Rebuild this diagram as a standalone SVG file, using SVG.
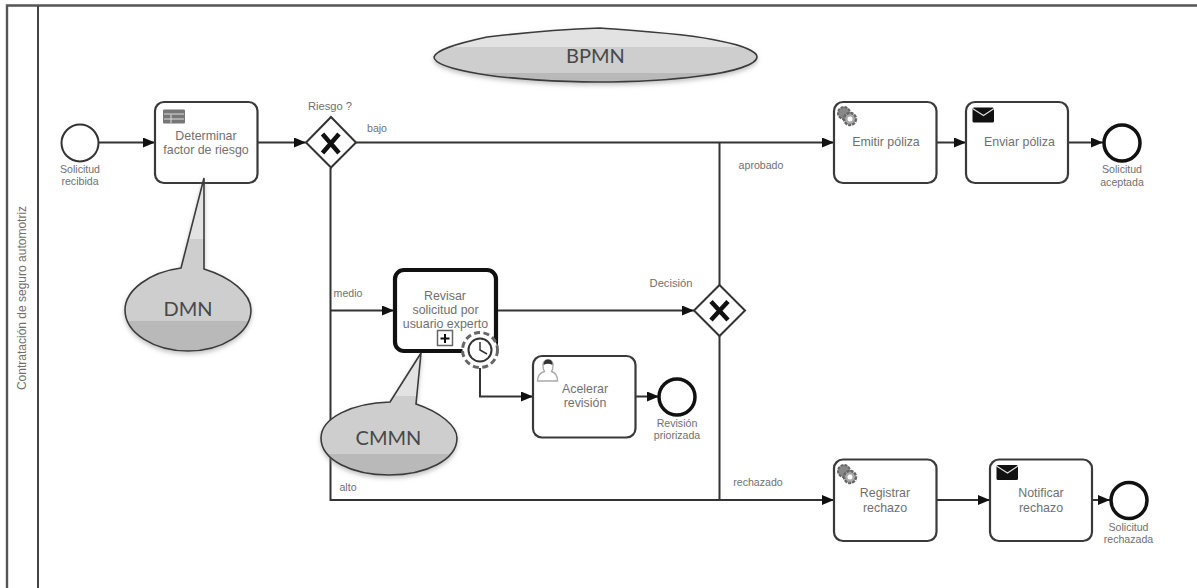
<svg xmlns="http://www.w3.org/2000/svg" width="1197" height="588" viewBox="0 0 1197 588">
<style>
text{font-family:"Liberation Sans",Arial,sans-serif;fill:#707070;text-anchor:middle}
.t{font-size:12.4px}
.s{font-size:10.600px}
.task{fill:#fff;stroke:#3a3a3a;stroke-width:2.2}
.flow{fill:none;stroke:#333;stroke-width:2;marker-end:url(#arrow)}
.line{fill:none;stroke:#333;stroke-width:2}
.gw{fill:#fff;stroke:#333;stroke-width:2}
.x{fill:none;stroke:#111;stroke-width:4.5}
.call{stroke:#3a3a3a;stroke-width:1.6;fill:url(#grey);filter:url(#shadow)}
.big{font-family:Lato,"Liberation Sans",sans-serif;fill:#484848}
.gear{fill:#fff;stroke:#666;stroke-width:3;stroke-dasharray:6 3.500}
</style>
<defs>
<marker id="arrow" markerWidth="13" markerHeight="11" refX="12" refY="5" orient="auto" markerUnits="userSpaceOnUse"><path d="M0 0L12 5L0 10Z" fill="#111"/></marker>
<linearGradient id="grey" x1="0" y1="0" x2="0" y2="1"><stop offset="0.35" stop-color="#e2e2e2"/><stop offset="0.35" stop-color="#cecece"/><stop offset="0.825" stop-color="#cecece"/><stop offset="0.825" stop-color="#b9b9b9"/></linearGradient>
<filter id="shadow" x="-10%" y="-10%" width="120%" height="125%"><feDropShadow dx="0" dy="2.500" stdDeviation="2" flood-color="#888" flood-opacity="0.5"/></filter>
<g id="gears"><circle cx="-2" cy="-2" r="6" fill="#888" stroke="#666" stroke-width="2" stroke-dasharray="3 1"/><circle cx="4" cy="4" r="6" fill="#aaa" stroke="#666" stroke-width="2.4" stroke-dasharray="3 1"/><circle cx="4" cy="4" r="2.500" fill="#fff"/></g>
<g id="env"><rect x="-10.500" y="-7" width="21.500" height="15" rx="1.500" fill="#111"/><path d="M-10.500 -6L0.500 1L11 -6" fill="none" stroke="#ddd" stroke-width="1.200"/></g>
</defs>
<rect width="1197" height="588" fill="#fff"/>
<g id="pool">
<path d="M7 588V5.500H1197" fill="none" stroke="#555" stroke-width="2.400"/>
<path d="M38 6V588" fill="none" stroke="#444" stroke-width="2"/>
<text transform="translate(26 298) rotate(-90)" style="font-size:12px">Contratación de seguro automotriz</text>
</g>
<g id="connectors">
<path class="flow" d="M99 142.500H155"/>
<path class="flow" d="M258 142.500H306"/>
<path class="flow" d="M356 142.500H834"/>
<path class="line" d="M330.500 168V500H719"/>
<path class="flow" d="M330.500 310.500H394"/>
<path class="flow" d="M498 310.500H694"/>
<path class="line" d="M719.500 336V500"/>
<path class="line" d="M719.500 285V142.500"/>
<path class="flow" d="M719 500H834"/>
<path class="flow" d="M480 368V396.500H533"/>
<path class="flow" d="M636 396.500H659"/>
<path class="flow" d="M937 142.500H966"/>
<path class="flow" d="M1068 142.500H1103"/>
<path class="flow" d="M937 500H990"/>
<path class="flow" d="M1092 500H1110"/>
</g>
<g id="start"><circle cx="80" cy="143" r="18.500" fill="#fff" stroke="#333" stroke-width="2"/><text class="s" x="80" y="173">Solicitud</text><text class="s" x="80" y="185">recibida</text></g>
<g id="determinar"><rect class="task" x="155" y="102" width="102.500" height="81" rx="9"/><rect x="163" y="109.500" width="22" height="14" rx="1" fill="#777"/><path d="M164 114H184M164 119H184M171 114.500V123" stroke="#ddd" stroke-width="1"/><text class="t" x="206" y="140">Determinar</text><text class="t" x="206" y="154">factor de riesgo</text></g>
<g id="riesgo"><path class="gw" d="M331 117L356 142.500L331 167.500L306 142.500Z"/><path class="x" d="M322.500 134L339 153M339 134L322.500 153"/><text class="s" x="330" y="110" style="font-size:11.200px">Riesgo ?</text></g>
<g id="dmn"><path class="call" d="M181 268L204 178V269C230 277 251 293 251 310C251 333 222 351 188 351C154 351 125 333 125 310C125 290 150 272 181 268Z"/><text class="big" x="188" y="316" style="font-size:20px">DMN</text></g>
<g id="revisar"><rect x="395" y="270" width="101" height="81" rx="9" fill="#fff" stroke="#111" stroke-width="4.200"/><text class="t" x="445" y="300">Revisar</text><text class="t" x="445.500" y="314">solicitud por</text><text class="t" x="445.500" y="328">usuario experto</text><rect x="437.500" y="330.500" width="15" height="15" fill="#fff" stroke="#666" stroke-width="1.500"/><path d="M445 334V343M440.500 338.500H449.500" stroke="#111" stroke-width="2"/></g>
<g id="timer"><circle class="gear" cx="480" cy="350" r="17.500"/><circle cx="480" cy="350" r="11.500" fill="#fff" stroke="#333" stroke-width="2"/><path d="M480 342V350L487 354" fill="none" stroke="#333" stroke-width="1.500"/></g>
<g id="cmmn"><path class="call" d="M390 402L421 353L416 404C440 412 457 426 457 438C457 460 426 475 389 475C352 475 321 460 321 438C321 418 352 403 390 402Z"/><text class="big" x="388.500" y="445" style="font-size:20px">CMMN</text></g>
<g id="acelerar"><rect class="task" x="533" y="356" width="102.500" height="81.500" rx="9"/><path d="M537.500 381C537.500 375 541 372.500 544.500 371.500C542.500 368 542.500 363 544 361.500C546 359.500 550 359.500 552 361.500C553.500 363 553.500 368 551.500 371.500C555 372.500 557.500 375 557.500 381Z" fill="#fff" stroke="#aaa" stroke-width="1.400"/><path d="M543.500 365Q544 359 548 359.500Q552.500 359 552.500 365Q548 362.500 543.500 365Z" fill="#333"/><text class="t" x="585" y="393">Acelerar</text><text class="t" x="585" y="407">revisión</text></g>
<g id="priorizada"><circle cx="677" cy="397" r="18" fill="#fff" stroke="#111" stroke-width="3.500"/><text class="s" x="677" y="427">Revisión</text><text class="s" x="677" y="439">priorizada</text></g>
<g id="decision"><path class="gw" d="M719.500 285L745 310.500L719.500 336L694 310.500Z"/><path class="x" d="M711 301.500L728 320M728 301.500L711 320"/><text class="s" x="671" y="287" style="font-size:11.200px">Decisión</text></g>
<g id="bpmn"><path class="call" d="M434 57C436 50 455 44 487 37C530 32 570 29 600 28C640 31 690 34 720 41C745 46 757 52 757 57C757 64 735 72 700 76C670 80 630 82 597 82C560 82 510 79 480 74C450 69 434 63 434 57Z"/><text class="big" x="595.500" y="63" style="font-size:20px">BPMN</text></g>
<g id="emitir"><rect class="task" x="834" y="102" width="102.500" height="81" rx="9"/><use href="#gears" x="846" y="115"/><text class="t" x="886" y="146">Emitir póliza</text></g>
<g id="enviar"><rect class="task" x="966" y="102" width="102" height="81" rx="9"/><use href="#env" x="983" y="114.500"/><text class="t" x="1019.500" y="146">Enviar póliza</text></g>
<g id="aceptada"><circle cx="1122" cy="143" r="18" fill="#fff" stroke="#111" stroke-width="3.500"/><text class="s" x="1122" y="173">Solicitud</text><text class="s" x="1122" y="186">aceptada</text></g>
<g id="registrar"><rect class="task" x="834" y="459.500" width="102.500" height="81.500" rx="9"/><use href="#gears" x="846" y="473"/><text class="t" x="885" y="497">Registrar</text><text class="t" x="885" y="512">rechazo</text></g>
<g id="notificar"><rect class="task" x="990" y="459.500" width="102" height="81.500" rx="9"/><use href="#env" x="1007" y="472"/><text class="t" x="1041" y="497">Notificar</text><text class="t" x="1041" y="512">rechazo</text></g>
<g id="rechazada"><circle cx="1129" cy="500.500" r="18" fill="#fff" stroke="#111" stroke-width="3.500"/><text class="s" x="1128.500" y="531">Solicitud</text><text class="s" x="1128.500" y="543">rechazada</text></g>
<g id="flow-labels">
<text class="s" x="377" y="132">bajo</text>
<text class="s" x="348" y="297">medio</text>
<text class="s" x="348" y="491">alto</text>
<text class="s" x="761" y="169">aprobado</text>
<text class="s" x="758" y="486">rechazado</text>
</g>
</svg>
